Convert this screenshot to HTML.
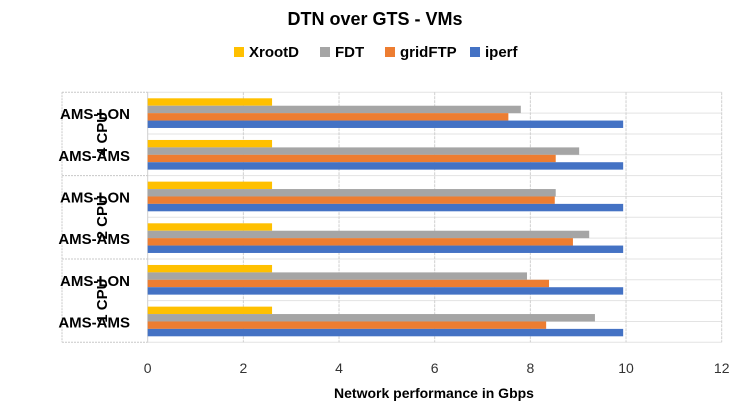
<!DOCTYPE html>
<html><head><meta charset="utf-8"><style>
body{margin:0;background:#fff;}
svg{display:block;font-family:"Liberation Sans",sans-serif;}
</style></head><body>
<svg id="c" width="737" height="410">
<text x="375" y="25" text-anchor="middle" font-size="18" font-weight="bold" fill="#000">DTN over GTS - VMs</text>
<g id="legend"></g>
<g id="grid"></g>
<g id="bars"></g>
<g id="labels"></g>
<g id="ticks"></g>
<text x="434" y="398" text-anchor="middle" font-size="14" font-weight="bold" fill="#000">Network performance in Gbps</text>
</svg>
<script>
const categories=["AMS-LON","AMS-AMS","AMS-LON","AMS-AMS","AMS-LON","AMS-AMS"];
const groups=["4 CPU","2 CPU","1 CPU"];
const seriesNames=["XrootD","FDT","gridFTP","iperf"];
const xrootd=[2.6,2.6,2.6,2.6,2.6,2.6];
const fdt=[7.8,9.02,8.53,9.23,7.93,9.35];
const gridftp=[7.54,8.53,8.51,8.89,8.39,8.33];
const iperf=[9.94,9.94,9.94,9.94,9.94,9.94];
const ticks=[0,2,4,6,8,10,12];
const colors=["#ffc000","#a5a5a5","#ed7d31","#4472c4"];
const series=[xrootd,fdt,gridftp,iperf];
const NS="http://www.w3.org/2000/svg";
const X0=147.7,X1=721.7,Y0=92.3,Y1=342.3,XMAX=12;
const xs=v=>X0+(v/XMAX)*(X1-X0);
const gh=(Y1-Y0)/categories.length;
function mk(tag,attrs,parent){const e=document.createElementNS(NS,tag);for(const k in attrs)e.setAttribute(k,attrs[k]);document.getElementById(parent).appendChild(e);return e;}
// grid
for(let i=0;i<=categories.length*2;i++){const y=Y0+i*gh/2;
 const l=mk('line',{x1:X0,x2:X1,y1:y,y2:y,stroke:'#e3e3e3','stroke-width':1},'grid');
 
 }
ticks.forEach(t=>{const x=xs(t);
 const l=mk('line',{x1:x,x2:x,y1:Y0,y2:Y1,stroke:'#cfcfcf','stroke-width':1,'stroke-dasharray':t==0?'none':'3,1'},'grid');
 
 
 const tx=mk('text',{x:x,y:373,'text-anchor':'middle','font-size':14,fill:'#333'},'ticks');
 tx.textContent=t;
 
 });
// group separators
for(let g=0;g<=groups.length;g++){const y=Y0+g*2*gh;
 const l=mk('line',{x1:62,x2:X0,y1:y,y2:y,stroke:'#c8c8c8','stroke-width':1,'stroke-dasharray':'2,1'},'labels');
 
 }
const vl=mk('line',{x1:62,x2:62,y1:Y0,y2:Y1,stroke:'#c8c8c8','stroke-dasharray':'2,1'},'labels');


const bh=(gh-12)/4;
categories.forEach((c,i)=>{
 const gy=Y0+i*gh;
 series.forEach((s,j)=>{
  const r=mk('rect',{x:X0,y:gy+6+j*bh,width:xs(s[i])-X0,height:bh,fill:colors[j]},'bars');
  
  });
 const t=mk('text',{x:130,y:gy+gh/2+6,'text-anchor':'end','font-size':15,'font-weight':'bold',fill:'#000'},'labels');
 t.textContent=c;
 
 });
groups.forEach((g,i)=>{const cy=Y0+(i*2+1)*gh;
 const t=mk('text',{x:0,y:0,'text-anchor':'middle','font-size':15,'font-weight':'bold',fill:'#000',transform:'translate(107,'+cy+') rotate(-90)'},'labels');
 t.textContent=g;
 
 });
// legend
const lx=[234,320,385,470];
seriesNames.forEach((n,j)=>{
 const r=mk('rect',{x:lx[j],y:47,width:10,height:10,fill:colors[j]},'legend');
 
 
 const t=mk('text',{x:lx[j]+15,y:57,'font-size':15,'font-weight':'bold',fill:'#000'},'legend');
 t.textContent=n;
 
 });
</script>
</body></html>
